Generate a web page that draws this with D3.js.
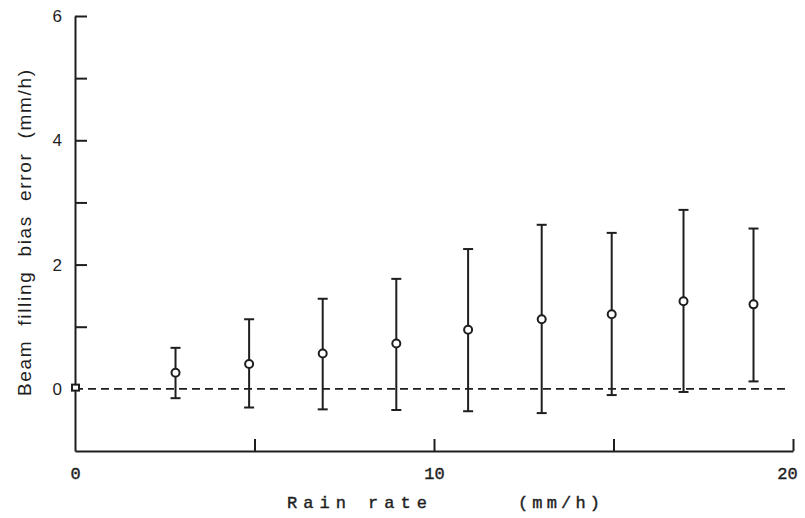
<!DOCTYPE html>
<html>
<head>
<meta charset="utf-8">
<script src="https://cdn.jsdelivr.net/npm/d3@7"></script>
<style>
  html, body { margin: 0; padding: 0; background: #fff; }
  svg { display: block; }
</style>
</head>
<body>
<svg id="chart" width="805" height="518"></svg>
<script>
// ---- data ----
const rainRate   = [2.8, 4.85, 6.9, 8.95, 10.95, 13.0, 14.95, 16.95, 18.9];
const biasMean   = [0.26, 0.40, 0.57, 0.73, 0.95, 1.12, 1.20, 1.41, 1.36];
const biasUpper  = [0.66, 1.12, 1.45, 1.77, 2.25, 2.64, 2.51, 2.88, 2.58];
const biasLower  = [-0.15, -0.30, -0.33, -0.34, -0.36, -0.39, -0.10, -0.05, 0.12];
const originRain = [0];
const originBias = [0.02];
const xTicks = [0, 5, 10, 15, 20];
const xTickLabels = ["0", "", "10", "", "20"];
const yTicks = [-1, 0, 1, 2, 3, 4, 5, 6];
const yTickLabels = ["", "0", "", "2", "", "4", "", "6"];
const xTitleA = "Rain rate";
const xTitleB = "(mm/h)";
const yTitle = "Beam  filling  bias  error  (mm/h)";

const ink = "#1e1e1e";
const svg = d3.select("#chart");

const x = d3.scaleLinear().domain([0, 20]).range([75, 793]);
const y = d3.scaleLinear().domain([-1, 6]).range([451, 16]);

// x axis
const xAxis = d3.axisBottom(x)
  .tickValues(xTicks)
  .tickSizeInner(-12)
  .tickSizeOuter(0)
  .tickPadding(16)
  .tickFormat((d, i) => xTickLabels[i]);
const gx = svg.append("g").attr("transform", `translate(0,${y(-1)})`).call(xAxis);
gx.select(".domain").attr("stroke", ink).attr("stroke-width", 2);
gx.selectAll(".tick line").attr("stroke", ink).attr("stroke-width", 2)
  .filter(d => d === 0).remove();
gx.selectAll(".tick text")
  .attr("fill", ink)
  .attr("stroke", ink).attr("stroke-width", 0.4)
  .attr("font-family", "'Liberation Mono', monospace")
  .attr("font-size", 17)
  .attr("dx", d => d === 20 ? -6 : 0);

// y axis
const yAxis = d3.axisLeft(y)
  .tickValues(yTicks)
  .tickSizeInner(-12)
  .tickSizeOuter(0)
  .tickPadding(13)
  .tickFormat((d, i) => yTickLabels[i]);
const gy = svg.append("g").attr("transform", `translate(${x(0)},0)`).call(yAxis);
gy.select(".domain").attr("stroke", ink).attr("stroke-width", 2);
gy.selectAll(".tick line").attr("stroke", ink).attr("stroke-width", 2)
  .filter(d => d === -1 || d === 0).remove();
gy.selectAll(".tick text")
  .attr("fill", ink)
  .attr("font-family", "'Liberation Sans', Arial, sans-serif")
  .attr("font-size", 17);

// zero dashed line
svg.append("line")
  .attr("x1", x(0)).attr("x2", x(19.9))
  .attr("y1", y(0)).attr("y2", y(0))
  .attr("stroke", ink).attr("stroke-width", 1.6)
  .attr("stroke-dasharray", "8,5");

// error bars
const pts = rainRate.map((r, i) => ({ r, m: biasMean[i], hi: biasUpper[i], lo: biasLower[i] }));
const bars = svg.append("g").selectAll("g").data(pts).join("g");
bars.append("line")
  .attr("x1", d => x(d.r)).attr("x2", d => x(d.r))
  .attr("y1", d => y(d.hi)).attr("y2", d => y(d.lo))
  .attr("stroke", ink).attr("stroke-width", 2);
bars.append("line")
  .attr("x1", d => x(d.r) - 5).attr("x2", d => x(d.r) + 5)
  .attr("y1", d => y(d.hi)).attr("y2", d => y(d.hi))
  .attr("stroke", ink).attr("stroke-width", 2);
bars.append("line")
  .attr("x1", d => x(d.r) - 5).attr("x2", d => x(d.r) + 5)
  .attr("y1", d => y(d.lo)).attr("y2", d => y(d.lo))
  .attr("stroke", ink).attr("stroke-width", 2);
bars.append("circle")
  .attr("cx", d => x(d.r)).attr("cy", d => y(d.m))
  .attr("r", 4)
  .attr("fill", "#fff").attr("stroke", ink).attr("stroke-width", 2);

// origin marker (square)
svg.append("g").selectAll("rect")
  .data(originRain.map((r, i) => ({ r, b: originBias[i] })))
  .join("rect")
  .attr("x", d => x(d.r) - 3).attr("y", d => y(d.b) - 3)
  .attr("width", 7).attr("height", 6)
  .attr("fill", "#fff").attr("stroke", ink).attr("stroke-width", 2);

// axis titles
svg.append("text")
  .attr("x", 287).attr("y", 508)
  .attr("font-family", "'Liberation Mono', monospace")
  .attr("font-size", 17)
  .attr("fill", ink).attr("stroke", ink).attr("stroke-width", 0.4)
  .attr("textLength", 140).attr("lengthAdjust", "spacing")
  .text(xTitleA);
svg.append("text")
  .attr("x", 518).attr("y", 508)
  .attr("font-family", "'Liberation Mono', monospace")
  .attr("font-size", 17)
  .attr("fill", ink).attr("stroke", ink).attr("stroke-width", 0.4)
  .attr("textLength", 82).attr("lengthAdjust", "spacing")
  .text(xTitleB);

svg.append("text")
  .attr("transform", "translate(31,396) rotate(-90)")
  .attr("x", 0).attr("y", 0)
  .attr("font-family", "'Liberation Sans', Arial, sans-serif")
  .attr("font-size", 19)
  .attr("fill", ink)
  .style("white-space", "pre")
  .attr("textLength", 326).attr("lengthAdjust", "spacing")
  .text(yTitle);
</script>
</body>
</html>
